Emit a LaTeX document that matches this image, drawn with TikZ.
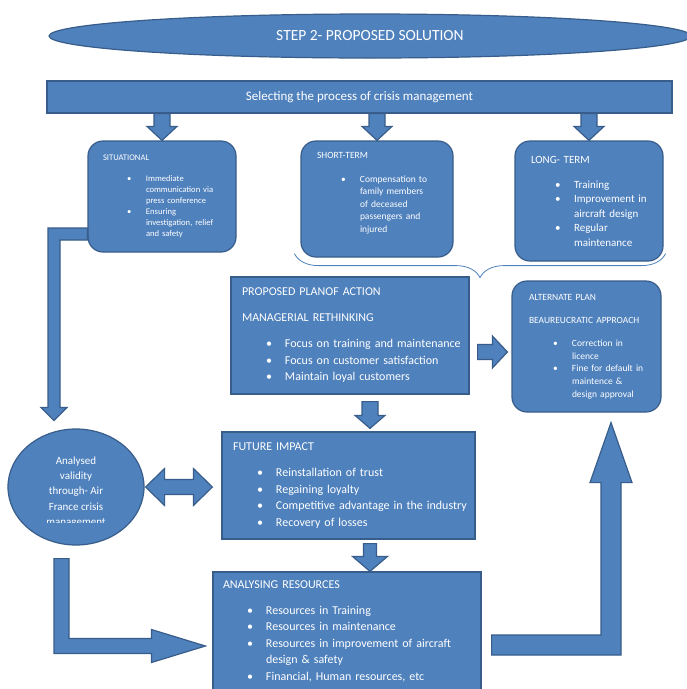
\documentclass[tikz,border=0pt]{standalone}
\usepackage{fontspec}
\setmainfont{Carlito}
\usetikzlibrary{calc,shapes.geometric,decorations.pathreplacing}
\definecolor{boxblue}{HTML}{4F81BD}
\definecolor{edgeblue}{HTML}{385D8A}
\tikzset{
  box/.style={draw=edgeblue, fill=boxblue, line width=1.2pt, text=white, align=left, inner sep=0pt},
  rbox/.style={box, rounded corners=15pt},
  oval/.style={ellipse, draw=edgeblue, fill=boxblue, line width=1.2pt, text=white, inner sep=0pt},
  blk/.style={draw=edgeblue, fill=boxblue, line width=1.2pt},
  brc/.style={draw=boxblue, line width=0.8pt, decorate, decoration={brace, amplitude=24pt}}
}
% bullet lines inside the boxes
\newcommand{\bpoint}[1]{\hspace*{24pt}\makebox[19pt][l]{\textbullet}\mbox{#1}}
\newcommand{\bnext}[1]{\hspace*{43pt}\mbox{#1}}
% block arrows: from, to, shaft half width, head half width, head length
\newcommand{\arrdown}[5]{%
  \path[blk] let \p1=(#1), \p2=(#2) in
    (\x1-#3pt,\y1) -- (\x1+#3pt,\y1) -- (\x1+#3pt,\y2+#5pt) -- (\x1+#4pt,\y2+#5pt)
    -- (\x1,\y2) -- (\x1-#4pt,\y2+#5pt) -- (\x1-#3pt,\y2+#5pt) -- cycle;}
\newcommand{\arrright}[5]{%
  \path[blk] let \p1=(#1), \p2=(#2) in
    (\x1,\y1+#3pt) -- (\x2-#5pt,\y1+#3pt) -- (\x2-#5pt,\y1+#4pt) -- (\x2,\y1)
    -- (\x2-#5pt,\y1-#4pt) -- (\x2-#5pt,\y1-#3pt) -- (\x1,\y1-#3pt) -- cycle;}
\newcommand{\arrboth}[5]{%
  \path[blk] let \p1=(#1), \p2=(#2) in
    (\x1,\y1) -- (\x1+#5pt,\y1+#4pt) -- (\x1+#5pt,\y1+#3pt) -- (\x2-#5pt,\y1+#3pt)
    -- (\x2-#5pt,\y1+#4pt) -- (\x2,\y1) -- (\x2-#5pt,\y1-#4pt) -- (\x2-#5pt,\y1-#3pt)
    -- (\x1+#5pt,\y1-#3pt) -- (\x1+#5pt,\y1-#4pt) -- cycle;}

\begin{document}
\begin{tikzpicture}[x=1pt, y=-1pt]
\useasboundingbox[fill=white] (0,0) rectangle (687,689);

% title and top bar
\node[oval, minimum width=642, minimum height=44, font=\fontsize{15.5}{18}\selectfont] (title) at (370,36) {STEP 2- PROPOSED SOLUTION};
\node[box, align=center, minimum width=625, minimum height=32, font=\fontsize{13}{16}\selectfont] (bar) at (359.5,97) {Selecting the process of crisis management};

% three kinds of response
\node[rbox, minimum width=148, minimum height=111, text width=118, font=\fontsize{8.6}{11}\selectfont] (sit) at (162,196.5) {SITUATIONAL\\[10pt]
  \bpoint{Immediate}\\ \bnext{communication via}\\ \bnext{press conference}\\
  \bpoint{Ensuring}\\ \bnext{investigation, relief}\\ \bnext{and safety}};
\node[rbox, minimum width=152, minimum height=116, text width=120, font=\fontsize{9.5}{12.5}\selectfont] (short) at (377,199) {SHORT-TERM\\[11.5pt]
  \bpoint{Compensation to}\\ \bnext{family members}\\ \bnext{of deceased}\\
  \bnext{passengers and}\\ \bnext{injured\rule[-14pt]{0pt}{14pt}}};
\node[rbox, minimum width=148, minimum height=120, text width=116, font=\fontsize{11}{14.5}\selectfont] (long) at (589,201) {LONG- TERM\\[10.5pt]
  \bpoint{Training}\\ \bpoint{Improvement in}\\ \bnext{aircraft design}\\
  \bpoint{Regular}\\ \bnext{maintenance}};

% plans
\node[box, minimum width=238, minimum height=117, text width=216, font=\fontsize{12}{16.5}\selectfont] (plan) at (350,335.5) {PROPOSED PLANOF ACTION\\[9.5pt]
  MANAGERIAL RETHINKING\\[9.5pt]
  \bpoint{Focus on training and maintenance}\\ \bpoint{Focus on customer satisfaction}\\
  \bpoint{Maintain loyal customers}};
\node[rbox, minimum width=149, minimum height=131, text width=115, font=\fontsize{9.5}{12.7}\selectfont] (alt) at (586.5,346.5) {ALTERNATE PLAN\\[10.3pt]
  BEAUREUCRATIC APPROACH\\[10.3pt]
  \bpoint{Correction in}\\ \bnext{licence}\\ \bpoint{Fine for default in}\\
  \bnext{maintence \&}\\ \bnext{design approval}};

% impact and resources
\node[box, minimum width=253, minimum height=107, text width=231, font=\fontsize{12}{16.7}\selectfont] (future) at (348.5,485.5) {FUTURE IMPACT\\[9.3pt]
  \bpoint{Reinstallation of trust}\\ \bpoint{Regaining loyalty}\\
  \bpoint{Competitive advantage in the industry}\\ \bpoint{Recovery of losses}};
\node[box, minimum width=268, minimum height=118, text width=248, font=\fontsize{12}{16.5}\selectfont] (ana) at (347,631) {ANALYSING RESOURCES\\[9.5pt]
  \bpoint{Resources in Training}\\ \bpoint{Resources in maintenance}\\
  \bpoint{Resources in improvement of aircraft}\\ \bnext{design \& safety}\\
  \bpoint{Financial, Human resources, etc}};

% validity check
\node[oval, minimum width=136, minimum height=116] (valid) at (76,487) {};
\begin{scope}
  \clip (0,440) rectangle (150,522.5);
  \node[font=\fontsize{11}{15.3}\selectfont, text=white, align=center] (validtext) at ($(valid.center)+(0,5)$) {Analysed\\validity\\through- Air\\France crisis\\management};
\end{scope}

% arrows
\arrdown{bar.south -| sit.north}{sit.north}{8}{15}{14}
\arrdown{bar.south -| short.north}{short.north}{8}{15}{14}
\arrdown{bar.south -| long.north}{long.north}{8}{15}{14}
\arrdown{$(plan.south)+(20,7)$}{$(future.north)+(0,-3)$}{8}{15}{13}
\arrdown{$(future.south)+(21.5,4)$}{ana.north}{6.5}{17.5}{15}
\arrright{$(plan.east)+(8,16.5)$}{$(alt.west)+(-4,0)$}{7.5}{16}{15}
\arrboth{$(valid.east)+(1,0)$}{$(future.west)+(-9,0)$}{7.5}{18.5}{19}

\path[blk] let \p1=($(sit.west)+(0,37.5)$), \p2=($(valid.north)+(-22,-8)$) in
  (\x1,\y1+6pt) -- (\x2-6pt,\y1+6pt) -- (\x2-6pt,\y2+13pt) -- (\x2-13pt,\y2+13pt) -- (\x2,\y2)
  -- (\x2+13pt,\y2+13pt) -- (\x2+6pt,\y2+13pt) -- (\x2+6pt,\y1-6pt) -- (\x1,\y1-6pt) -- cycle;
\path[blk] let \p1=($(valid.south)+(-14.5,13)$), \p2=($(ana.west)+(-7,15)$) in
  (\x1-7.5pt,\y1) -- (\x1+7.5pt,\y1) -- (\x1+7.5pt,\y2+7.5pt) -- (\x2-54pt,\y2+7.5pt) -- (\x2-54pt,\y2+16.5pt)
  -- (\x2,\y2) -- (\x2-54pt,\y2-16.5pt) -- (\x2-54pt,\y2-7.5pt) -- (\x1-7.5pt,\y2-7.5pt) -- cycle;
\path[blk] let \p1=($(ana.east)+(10,14)$), \p2=($(alt.south)+(24.5,10)$) in
  (\x1,\y1+10pt) -- (\x2-10pt,\y1+10pt) -- (\x2-10pt,\y2-60pt) -- (\x2-21pt,\y2-60pt) -- (\x2,\y2)
  -- (\x2+21pt,\y2-60pt) -- (\x2+10pt,\y2-60pt) -- (\x2+10pt,\y1-10pt) -- (\x1,\y1-10pt) -- cycle;

% brace under the short and long term boxes
\draw[brc] ($(long.south east)+(2,-8)$) -- ($(short.south west)+(-6,-4)$);
\end{tikzpicture}
\end{document}
